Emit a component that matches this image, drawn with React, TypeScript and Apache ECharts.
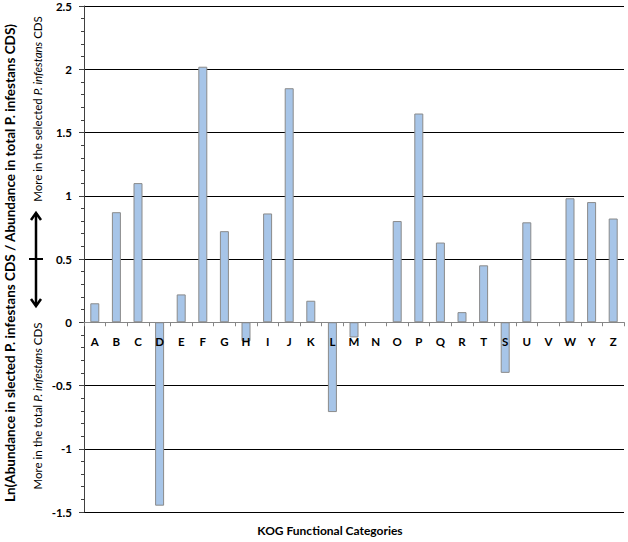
import React, { useEffect, useRef } from "react";
import * as echarts from "echarts";

const categories = ["A","B","C","D","E","F","G","H","I","J","K","L","M","N","O","P","Q","R","T","S","U","V","W","Y","Z"];
const values = [0.15,0.87,1.1,-1.45,0.22,2.02,0.72,-0.15,0.86,1.85,0.17,-0.71,-0.12,0,0.8,1.65,0.63,0.08,0.45,-0.4,0.79,0,0.98,0.95,0.82];
const yTitle = "Ln(Abundance in slected P. infestans CDS / Abundance in total P. infestans CDS)";
const xTitle = "KOG Functional Categories";

const FONT = "Lato, 'Open Sans', sans-serif";
const Y_MIN = -1.5;
const Y_MAX = 2.5;
const GRID_TOP = 6;
const GRID_BOTTOM = 30;
const HEIGHT = 542;

export default function App() {
  const ref = useRef<HTMLDivElement>(null);
  useEffect(() => {
    if (!ref.current) return;
    const chart = echarts.init(ref.current, undefined, { renderer: "svg" });
    const plotH = HEIGHT - GRID_TOP - GRID_BOTTOM;
    const zeroFromBottom = (0 - Y_MIN) / (Y_MAX - Y_MIN) * plotH;
    const barData = values.map((v) => (v === 0 ? { value: v, itemStyle: { borderWidth: 0 } } : v));
    chart.setOption({
      animation: false,
      textStyle: { fontFamily: FONT },
      grid: { left: 84, right: 4, top: GRID_TOP, bottom: GRID_BOTTOM, containLabel: false },
      xAxis: {
        type: "category",
        data: categories,
        z: 3,
        offset: -zeroFromBottom,
        axisLine: { onZero: false, lineStyle: { color: "#868686", width: 1 } },
        axisTick: { show: true, length: 4, alignWithLabel: false, lineStyle: { color: "#868686" } },
        axisLabel: { fontWeight: "bold", fontSize: 11.5, color: "#000", margin: 13, fontFamily: FONT, interval: 0 },
        splitLine: { show: false },
      },
      yAxis: {
        type: "value",
        min: Y_MIN,
        max: Y_MAX,
        interval: 0.5,
        axisLine: { show: true, lineStyle: { color: "#404040", width: 1 } },
        axisTick: { show: true, length: 5, lineStyle: { color: "#404040" } },
        minorTick: { show: true, splitNumber: 5, length: 3, lineStyle: { color: "#404040" } },
        axisLabel: { fontWeight: "bold", fontSize: 11.5, color: "#000", margin: 12, fontFamily: FONT },
        splitLine: { show: true, lineStyle: { color: "#000", width: 1 } },
      },
      series: [
        {
          type: "bar",
          data: barData,
          barWidth: 9,
          itemStyle: { color: "#A7C5E8", borderColor: "#8a8a8a", borderWidth: 1 },
        },
      ],
      graphic: [
        {
          type: "text",
          x: 10,
          y: 263,
          rotation: Math.PI / 2,
          style: {
            text: yTitle,
            fontFamily: FONT,
            fontSize: 13.5,
            fontWeight: "bold",
            fill: "#000",
            align: "center",
            verticalAlign: "middle",
          },
        },
        {
          type: "text",
          x: 37,
          y: 109,
          rotation: Math.PI / 2,
          style: {
            text: "More in the selected {i|P. infestans} CDS",
            rich: { i: { fontStyle: "italic", fontFamily: FONT, fontSize: 11.5, fill: "#000" } },
            fontFamily: FONT,
            fontSize: 11.5,
            fill: "#000",
            align: "center",
            verticalAlign: "middle",
          },
        },
        {
          type: "text",
          x: 37,
          y: 406,
          rotation: Math.PI / 2,
          style: {
            text: "More in the total {i|P. infestans} CDS",
            rich: { i: { fontStyle: "italic", fontFamily: FONT, fontSize: 11.5, fill: "#000" } },
            fontFamily: FONT,
            fontSize: 11.5,
            fill: "#000",
            align: "center",
            verticalAlign: "middle",
          },
        },
        {
          type: "line",
          shape: { x1: 36, y1: 213, x2: 36, y2: 306 },
          style: { stroke: "#000", lineWidth: 2.5 },
        },
        {
          type: "polyline",
          shape: { points: [[31, 220], [36, 213], [41, 220]] },
          style: { stroke: "#000", lineWidth: 2.5, fill: "none" },
        },
        {
          type: "polyline",
          shape: { points: [[31, 299], [36, 306], [41, 299]] },
          style: { stroke: "#000", lineWidth: 2.5, fill: "none" },
        },
        {
          type: "line",
          shape: { x1: 29, y1: 259, x2: 43, y2: 259 },
          style: { stroke: "#000", lineWidth: 2 },
        },
        {
          type: "text",
          x: 330,
          y: 530,
          style: {
            text: xTitle,
            fontFamily: FONT,
            fontSize: 12,
            fontWeight: "bold",
            fill: "#000",
            align: "center",
            verticalAlign: "middle",
          },
        },
      ],
    });
    return () => chart.dispose();
  }, []);
  return <div ref={ref} style={{ width: 628, height: 542, position: "absolute", left: 0, top: 0 }} />;
}
